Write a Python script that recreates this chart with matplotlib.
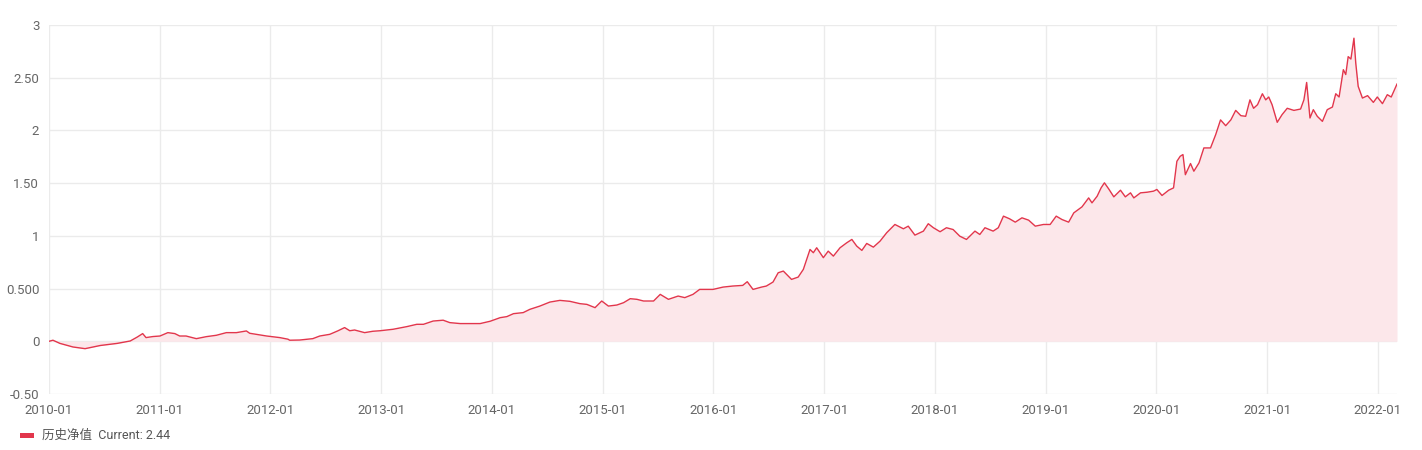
import matplotlib
matplotlib.use("Agg")
import matplotlib.pyplot as plt
from matplotlib.patches import Rectangle
import pandas as pd

dates = [
    "2010-01-01", "2010-01-14", "2010-02-06", "2010-03-21", "2010-04-30", "2010-06-19",
    "2010-08-14", "2010-09-26", "2010-10-19", "2010-11-06", "2010-11-17", "2010-12-10",
    "2011-01-02", "2011-01-28", "2011-02-20", "2011-03-08", "2011-03-29", "2011-05-02",
    "2011-06-04", "2011-07-07", "2011-08-09", "2011-09-11", "2011-10-14", "2011-10-25",
    "2011-12-20", "2012-02-01", "2012-02-28", "2012-03-05", "2012-04-07", "2012-05-20",
    "2012-06-12", "2012-07-15", "2012-08-10", "2012-09-02", "2012-09-19", "2012-10-05",
    "2012-11-07", "2012-12-04", "2012-12-28", "2013-02-09", "2013-03-26", "2013-04-28",
    "2013-05-20", "2013-06-21", "2013-07-24", "2013-08-15", "2013-09-18", "2013-10-21",
    "2013-11-23", "2013-12-26", "2014-01-28", "2014-02-19", "2014-03-13", "2014-04-14",
    "2014-05-06", "2014-06-08", "2014-07-11", "2014-08-13", "2014-09-15", "2014-10-18",
    "2014-11-10", "2014-12-07", "2014-12-29", "2015-01-20", "2015-02-17", "2015-03-11",
    "2015-04-02", "2015-04-24", "2015-05-16", "2015-06-18", "2015-07-10", "2015-08-06",
    "2015-09-07", "2015-09-29", "2015-10-26", "2015-11-17", "2015-12-31", "2016-02-02",
    "2016-03-05", "2016-04-07", "2016-04-22", "2016-05-11", "2016-06-08", "2016-06-24",
    "2016-07-16", "2016-08-02", "2016-08-19", "2016-09-15", "2016-10-07", "2016-10-24",
    "2016-11-04", "2016-11-15", "2016-11-26", "2016-12-07", "2016-12-29", "2017-01-14",
    "2017-01-31", "2017-02-22", "2017-03-16", "2017-04-02", "2017-04-18", "2017-05-05",
    "2017-05-21", "2017-06-12", "2017-07-04", "2017-07-26", "2017-08-22", "2017-09-19",
    "2017-10-05", "2017-10-27", "2017-11-24", "2017-12-10", "2017-12-27", "2018-01-18",
    "2018-02-08", "2018-03-02", "2018-03-24", "2018-04-15", "2018-05-13", "2018-05-29",
    "2018-06-15", "2018-07-12", "2018-07-29", "2018-08-15", "2018-09-04", "2018-09-23",
    "2018-10-15", "2018-11-06", "2018-11-28", "2018-12-25", "2019-01-16", "2019-02-05",
    "2019-02-24", "2019-03-18", "2019-04-04", "2019-05-01", "2019-05-23", "2019-06-03",
    "2019-06-20", "2019-07-03", "2019-07-14", "2019-07-28", "2019-08-14", "2019-09-05",
    "2019-09-21", "2019-10-08", "2019-10-19", "2019-11-10", "2019-12-02", "2019-12-23",
    "2020-01-03", "2020-01-20", "2020-02-11", "2020-02-27", "2020-03-09", "2020-03-20",
    "2020-03-29", "2020-04-06", "2020-04-23", "2020-05-04", "2020-05-21", "2020-06-06",
    "2020-06-28", "2020-07-15", "2020-07-31", "2020-08-17", "2020-09-03", "2020-09-19",
    "2020-10-06", "2020-10-22", "2020-11-05", "2020-11-17", "2020-11-30", "2020-12-16",
    "2020-12-27", "2021-01-06", "2021-01-17", "2021-02-03", "2021-02-19", "2021-03-08",
    "2021-03-30", "2021-04-21", "2021-05-02", "2021-05-11", "2021-05-22", "2021-06-02",
    "2021-06-15", "2021-07-02", "2021-07-18", "2021-08-04", "2021-08-15", "2021-08-26",
    "2021-09-09", "2021-09-17", "2021-09-25", "2021-10-04", "2021-10-14", "2021-10-20",
    "2021-10-28", "2021-11-11", "2021-11-28", "2021-12-17", "2021-12-30", "2022-01-16",
    "2022-02-01", "2022-02-14", "2022-03-05",
]

nav = [
    0.00, 0.01, -0.02, -0.054, -0.07, -0.04,
    -0.02, 0.003, 0.04, 0.073, 0.035, 0.045,
    0.05, 0.082, 0.073, 0.05, 0.05, 0.025,
    0.044, 0.057, 0.082, 0.082, 0.098, 0.076,
    0.05, 0.035, 0.02, 0.01, 0.012, 0.025,
    0.05, 0.066, 0.098, 0.13, 0.10, 0.107,
    0.082, 0.095, 0.10, 0.114, 0.139, 0.161,
    0.161, 0.192, 0.20, 0.177, 0.168, 0.168,
    0.168, 0.19, 0.224, 0.234, 0.262, 0.272,
    0.303, 0.334, 0.372, 0.388, 0.379, 0.357,
    0.35, 0.319, 0.382, 0.334, 0.344, 0.366,
    0.404, 0.398, 0.382, 0.382, 0.445, 0.398,
    0.429, 0.414, 0.445, 0.492, 0.492, 0.514,
    0.524, 0.53, 0.565, 0.492, 0.514, 0.524,
    0.562, 0.65, 0.666, 0.587, 0.609, 0.682,
    0.776, 0.871, 0.84, 0.887, 0.793, 0.855,
    0.808, 0.887, 0.934, 0.966, 0.903, 0.862,
    0.928, 0.893, 0.95, 1.03, 1.108, 1.067,
    1.092, 1.007, 1.045, 1.115, 1.077, 1.039,
    1.077, 1.06, 0.997, 0.966, 1.045, 1.013,
    1.077, 1.045, 1.077, 1.187, 1.162, 1.13,
    1.171, 1.149, 1.092, 1.108, 1.108, 1.187,
    1.155, 1.13, 1.218, 1.275, 1.36, 1.313,
    1.376, 1.455, 1.503, 1.446, 1.37, 1.433,
    1.37, 1.408, 1.36, 1.408, 1.414, 1.424,
    1.44, 1.383, 1.433, 1.455, 1.707, 1.755,
    1.771, 1.58, 1.686, 1.613, 1.692, 1.834,
    1.834, 1.96, 2.10, 2.045, 2.10, 2.19,
    2.14, 2.134, 2.29, 2.21, 2.244, 2.348,
    2.29, 2.317, 2.244, 2.077, 2.15, 2.21,
    2.19, 2.203, 2.29, 2.455, 2.118, 2.197,
    2.134, 2.086, 2.197, 2.222, 2.348, 2.317,
    2.576, 2.53, 2.70, 2.677, 2.875, 2.638,
    2.418, 2.307, 2.33, 2.266, 2.317, 2.254,
    2.339, 2.317, 2.44,
]

y_ticks = [-0.5, 0, 0.5, 1, 1.5, 2, 2.5, 3]
y_tick_labels = ["-0.50", "0", "0.500", "1", "1.50", "2", "2.50", "3"]
x_tick_years = list(range(2010, 2023))
series_name = "历史净值"
current_value = 2.44

LINE = "#e2364c"
FILL = "#fce7ea"
GRID = "#ebebeb"
TEXT = "#666666"

plt.rcParams["font.family"] = ["Roboto", "Noto Sans CJK SC", "DejaVu Sans"]

x = pd.to_datetime(dates)

fig = plt.figure(figsize=(14.22, 4.5), dpi=100)
ax = fig.add_axes([49 / 1422, 1 - 394 / 450, (1397 - 49) / 1422, (394 - 25) / 450])

ax.fill_between(x, nav, 0, color=FILL, linewidth=0, zorder=1)
ax.plot(x, nav, color=LINE, linewidth=1.0, zorder=3)

ax.set_xlim(x[0], x[-1])
ax.set_ylim(-0.5, 3)

ax.set_yticks(y_ticks)
ax.set_yticklabels(y_tick_labels)
xt = pd.to_datetime([f"{yy}-01-01" for yy in x_tick_years])
ax.set_xticks(xt)
ax.set_xticklabels([f"{yy}-01" for yy in x_tick_years])

ax.grid(True, color=GRID, linewidth=1.0, zorder=0)
ax.set_axisbelow(True)
for s in ax.spines.values():
    s.set_visible(False)
ax.tick_params(axis="both", length=0, colors=TEXT, labelsize=9.5)
ax.tick_params(axis="y", pad=7)
ax.tick_params(axis="x", pad=7)

fig.patches.append(Rectangle((20 / 1422, 1 - 438 / 450), 14 / 1422, 5 / 450,
                             transform=fig.transFigure, color=LINE, linewidth=0))
fig.text(42 / 1422, 1 - 435.5 / 450, f"{series_name}  Current: {current_value:.2f}",
         color="#555555", fontsize=9, va="center", ha="left")

fig.savefig("out.png", dpi=100)
